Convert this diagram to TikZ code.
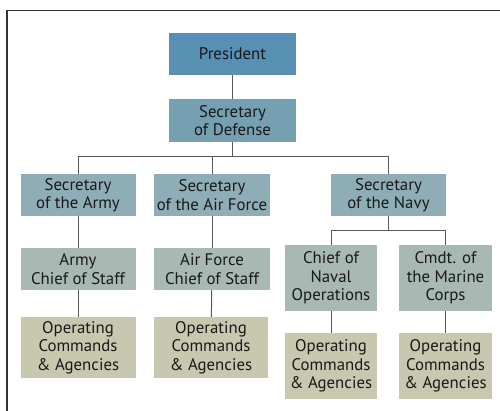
\documentclass[tikz,border=0pt]{standalone}
\usepackage{fontspec}
\setmainfont{PT Sans}
\begin{document}
\begin{tikzpicture}[x=1pt,y=-1pt,
  box/.style={inner sep=0pt, align=center, text=black!90,
    font=\fontsize{16.8}{18.5}\selectfont},
  pres/.style={box, fill=presC},
  def/.style={box, fill=defC},
  sec/.style={box, fill=secC},
  cos/.style={box, fill=cosC},
  ops/.style={box, fill=opsC},
  conn/.style={draw=black!65, line width=1pt}]
\definecolor{presC}{HTML}{5890B4}
\definecolor{defC}{HTML}{74A0B2}
\definecolor{secC}{HTML}{8FADB6}
\definecolor{cosC}{HTML}{A8B8B2}
\definecolor{opsC}{HTML}{C8C7B0}
\useasboundingbox (0,0) rectangle (500,411);
\draw[black!80, line width=1.5pt] (7,411) -- (7,10.5) -- (500,10.5);

\node[pres, minimum width=127pt, minimum height=42pt] (president) at (232.5,54) {President};
\node[def, minimum width=127pt, minimum height=43pt] (secdef) at (232.5,120.5) {Secretary\\of Defense};

\node[sec, minimum width=115pt, minimum height=42pt] (asec) at (78,195) {Secretary\\of the Army};
\node[sec, minimum width=116pt, minimum height=42pt] (fsec) at (212,195) {Secretary\\of the Air Force};
\node[sec, minimum width=115pt, minimum height=42pt] (nsec) at (388.5,195) {Secretary\\of the Navy};

\node[cos, minimum width=115pt, minimum height=42pt] (acos) at (78,269) {Army\\Chief of Staff};
\node[cos, minimum width=116pt, minimum height=42pt] (fcos) at (212,269) {Air Force\\Chief of Staff};

\node[ops, minimum width=115pt, minimum height=61pt] (aops) at (78,347.5) {Operating\\Commands\\\& Agencies};
\node[ops, minimum width=114pt, minimum height=61pt] (fops) at (211,347.5) {Operating\\Commands\\\& Agencies};

\node[cos, minimum width=92pt, minimum height=66pt] (cno) at (331,278) {Chief of\\Naval\\Operations};
\node[cos, minimum width=93pt, minimum height=66pt] (cmc) at (445.5,278) {Cmdt. of\\the Marine\\Corps};

\node[ops, minimum width=92pt, minimum height=66pt] (nops) at (331,366) {Operating\\Commands\\\& Agencies};
\node[ops, minimum width=93pt, minimum height=66pt] (mops) at (445.5,366) {Operating\\Commands\\\& Agencies};

\coordinate (bus) at (232.5,157);
\coordinate (nbus) at (388.5,231);

\draw[conn] (president) -- (secdef);
\draw[conn] (secdef) -- (bus);
\draw[conn] (bus) -| (asec.north);
\draw[conn] (bus) -| (fsec.north);
\draw[conn] (bus) -| (nsec.north);
\draw[conn] (asec) -- (acos);
\draw[conn] (acos) -- (aops);
\draw[conn] (fsec) -- (fcos);
\draw[conn] (fcos) -- (fops);
\draw[conn] (nsec) -- (nbus);
\draw[conn] (nbus) -| (cno.north);
\draw[conn] (nbus) -| (cmc.north);
\draw[conn] (cno) -- (nops);
\draw[conn] (cmc) -- (mops);
\end{tikzpicture}
\end{document}
